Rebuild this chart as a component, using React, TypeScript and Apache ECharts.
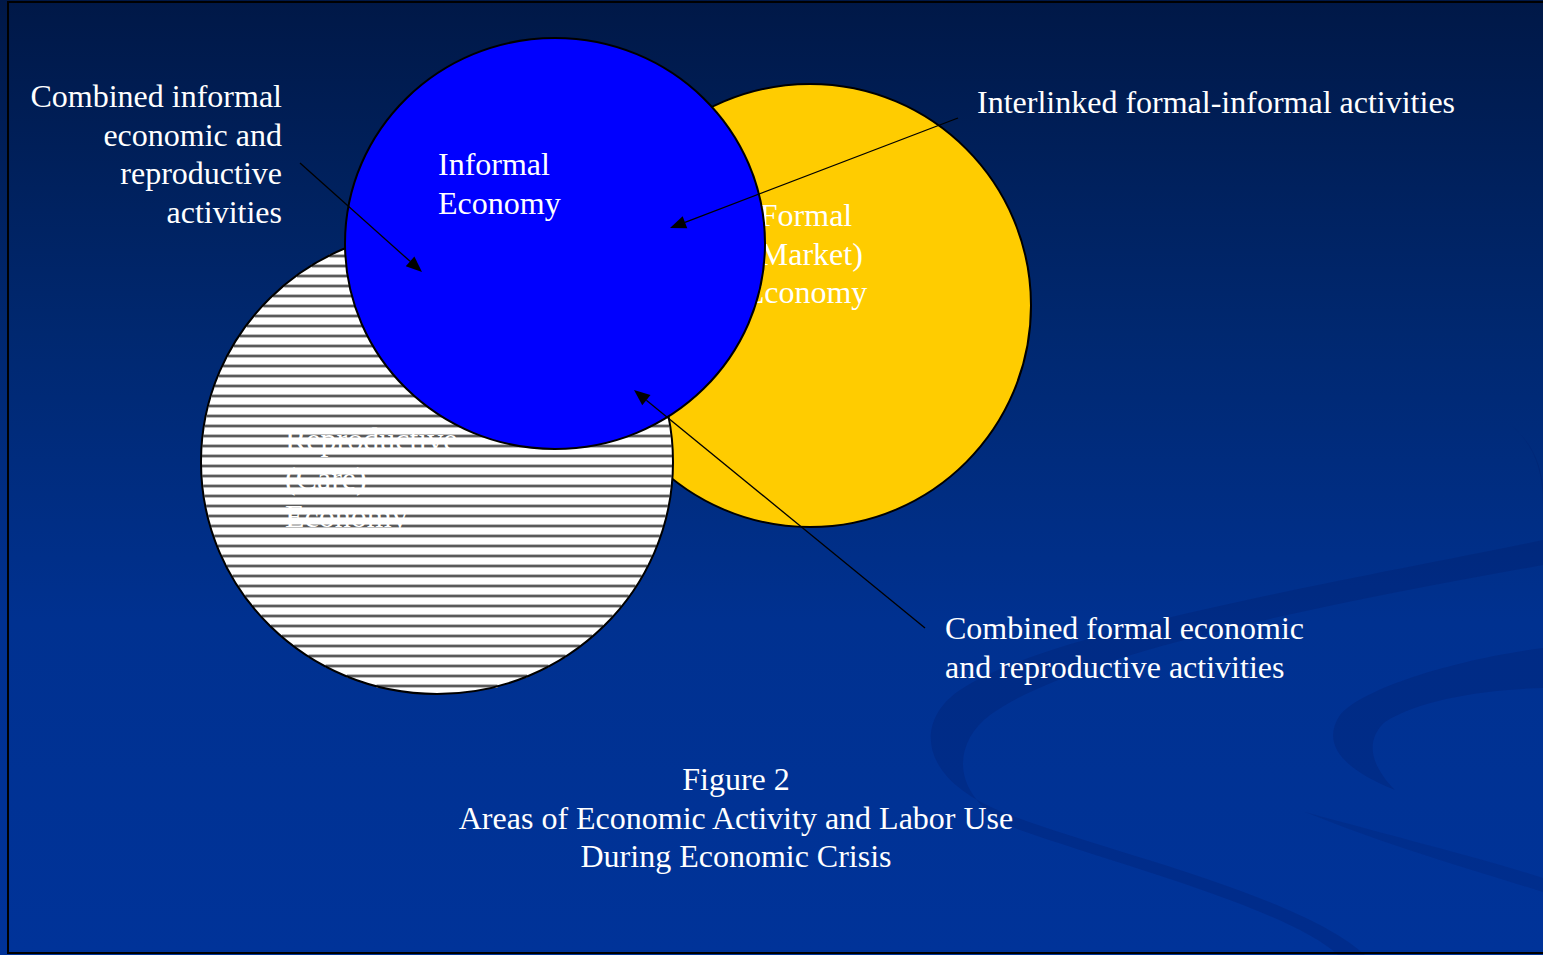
import React, { useEffect, useRef } from "react";
import * as echarts from "echarts";

// ---- Data ----
// Circles (Venn areas), drawn in this order: Formal, Reproductive, Informal
const circleNames = ["Formal (Market) Economy", "Reproductive (Care) Economy", "Informal Economy"];
const circleCx = [810, 437, 555];
const circleCy = [305.5, 462, 243.5];
const circleRx = [221, 236, 210];
const circleRy = [221.5, 232, 205.5];
const circleLabels = ["Formal\n(Market)\nEconomy", "Reproductive\n(Care)\nEconomy", "Informal\nEconomy"];

// Arrows (from -> to)
const arrowFromX = [300, 958, 925];
const arrowFromY = [163, 118, 628];
const arrowToX = [422, 670, 634];
const arrowToY = [272, 228, 390];

// Annotation texts
const noteInformal = "Combined informal\neconomic and\nreproductive\nactivities";
const noteInterlinked = "Interlinked formal-informal activities";
const noteFormal = "Combined formal economic\nand reproductive activities";
const figureCaption = "Figure 2\nAreas of Economic Activity and Labor Use\nDuring Economic Crisis";

// ---- Styles / layout ----
const FONT = "'Liberation Serif', 'Times New Roman', serif";
const FS = 32;
const LH = 38.5;
const circleStyles = [
  { fill: "#FFCC00", striped: false },
  { fill: "#FFFFFF", striped: true },
  { fill: "#0000FF", striped: false },
];
const circleLabelLayout = [
  { x: 806, y: 215 - LH / 2, align: "center" },
  { x: 285, y: 439 - LH / 2, align: "left" },
  { x: 438, y: 164 - LH / 2, align: "left" },
];

const swirlA =
  "M1543,540 C1350,580 1050,630 960,690 C915,720 915,780 1010,815 C1100,850 1300,895 1365,955 L1338,955 C1290,910 1120,865 1020,830 C950,800 950,745 990,715 C1080,650 1350,600 1543,565 Z";
const swirlB =
  "M1543,648 C1450,660 1360,690 1340,715 C1320,745 1345,770 1395,790 C1370,765 1365,740 1385,722 C1420,700 1480,690 1543,688 Z";
const swirlC = "M1305,812 C1400,838 1480,858 1543,878 L1543,892 C1480,872 1400,850 1305,812 Z";
const swirlD = "M1512,426 C1534,445 1543,470 1543,505 L1543,485 C1539,458 1530,442 1512,426 Z";

let registered = false;
function registerShapes() {
  if (registered) return;
  registered = true;
  echarts.graphic.registerShape("swirlA", echarts.graphic.extendPath(swirlA, {}) as any);
  echarts.graphic.registerShape("swirlB", echarts.graphic.extendPath(swirlB, {}) as any);
  echarts.graphic.registerShape("swirlC", echarts.graphic.extendPath(swirlC, {}) as any);
  echarts.graphic.registerShape("swirlD", echarts.graphic.extendPath(swirlD, {}) as any);
}

export default function App() {
  const ref = useRef<HTMLDivElement>(null);
  useEffect(() => {
    if (!ref.current) return;
    registerShapes();
    const chart = echarts.init(ref.current, undefined, { renderer: "svg" });

    const circleData = circleNames.map((n, i) => ({
      name: n,
      value: [circleCx[i], circleCy[i], circleRx[i], circleRy[i]],
    }));
    const arrowData = arrowFromX.map((x, i) => [x, arrowFromY[i], arrowToX[i], arrowToY[i]]);

    const textEl = (text: string, x: number, yCenter: number, align: string) => ({
      type: "text",
      x,
      y: yCenter - LH / 2,
      z: 10,
      silent: true,
      style: {
        text,
        fill: "#FFFFFF",
        fontFamily: FONT,
        fontSize: FS,
        lineHeight: LH,
        align,
        verticalAlign: "top",
      },
    });

    const swirlStyle = { fill: "rgba(0,20,90,0.2)" };

    const option: any = {
      animation: false,
      backgroundColor: {
        type: "linear",
        x: 0,
        y: 0,
        x2: 0,
        y2: 1,
        colorStops: [
          { offset: 0, color: "#001847" },
          { offset: 0.35, color: "#002870" },
          { offset: 0.65, color: "#003190" },
          { offset: 1, color: "#003399" },
        ],
      },
      grid: { left: 0, right: 0, top: 0, bottom: 0 },
      xAxis: { type: "value", min: 0, max: 1543, show: false },
      yAxis: { type: "value", min: 0, max: 955, inverse: true, show: false },
      graphic: [
        { type: "swirlA", x: 0, y: 0, z: 1, silent: true, style: swirlStyle },
        { type: "swirlB", x: 0, y: 0, z: 1, silent: true, style: swirlStyle },
        { type: "swirlC", x: 0, y: 0, z: 1, silent: true, style: { fill: "rgba(0,20,90,0.15)" } },
        { type: "swirlD", x: 0, y: 0, z: 1, silent: true, style: { fill: "rgba(0,20,90,0.2)" } },
        textEl(noteInformal, 282, 96, "right"),
        textEl(noteInterlinked, 977, 102, "left"),
        textEl(noteFormal, 945, 628, "left"),
        textEl(figureCaption, 736, 779, "center"),
        {
          type: "rect",
          z: 20,
          silent: true,
          shape: { x: 8, y: 2, width: 1545, height: 951 },
          style: { fill: "none", stroke: "#000000", lineWidth: 2 },
        },
      ],
      series: [
        {
          type: "custom",
          name: "areas",
          coordinateSystem: "cartesian2d",
          data: circleData,
          silent: true,
          renderItem: (params: any, api: any) => {
            const i = params.dataIndex;
            const cx = api.value(0);
            const cy = api.value(1);
            const rx = api.value(2);
            const ry = api.value(3);
            const c = api.coord([cx, cy]);
            const e = api.coord([cx + rx, cy + ry]);
            const prx = Math.abs(e[0] - c[0]);
            const pry = Math.abs(e[1] - c[1]);
            const st = circleStyles[i];
            const children: any[] = [];
            children.push({
              type: "ellipse",
              shape: { cx: c[0], cy: c[1], rx: prx, ry: pry },
              style: { fill: st.fill, stroke: "none" },
            });
            if (st.striped) {
              const start = Math.ceil((cy - ry - 6) / 10) * 10 + 6;
              for (let y = start; y < cy + ry; y += 10) {
                const t = (y - cy) / ry;
                if (Math.abs(t) >= 0.995) continue;
                const hw = rx * Math.sqrt(1 - t * t) - 1;
                const a = api.coord([cx - hw, y]);
                const b = api.coord([cx + hw, y]);
                children.push({
                  type: "line",
                  shape: { x1: a[0], y1: a[1], x2: b[0], y2: b[1] },
                  style: { stroke: "#bdbdbd", lineWidth: 4 },
                });
                children.push({
                  type: "line",
                  shape: { x1: a[0], y1: a[1], x2: b[0], y2: b[1] },
                  style: { stroke: "#5a5a5a", lineWidth: 2 },
                });
              }
            }
            children.push({
              type: "ellipse",
              shape: { cx: c[0], cy: c[1], rx: prx, ry: pry },
              style: { fill: "none", stroke: "#000000", lineWidth: 2 },
            });
            const lab = circleLabelLayout[i];
            const p = api.coord([lab.x, lab.y]);
            children.push({
              type: "text",
              style: {
                text: circleLabels[i],
                x: p[0],
                y: p[1],
                fill: "#FFFFFF",
                fontFamily: FONT,
                fontSize: FS,
                lineHeight: LH,
                align: lab.align,
                verticalAlign: "top",
              },
            });
            return { type: "group", children };
          },
        },
        {
          type: "custom",
          name: "arrows",
          coordinateSystem: "cartesian2d",
          data: arrowData,
          silent: true,
          renderItem: (params: any, api: any) => {
            const a = api.coord([api.value(0), api.value(1)]);
            const b = api.coord([api.value(2), api.value(3)]);
            const dx = b[0] - a[0];
            const dy = b[1] - a[1];
            const L = Math.hypot(dx, dy);
            const ux = dx / L;
            const uy = dy / L;
            const head = 16;
            const hw = 6.5;
            const base = [b[0] - ux * head, b[1] - uy * head];
            return {
              type: "group",
              children: [
                {
                  type: "line",
                  shape: { x1: a[0], y1: a[1], x2: base[0], y2: base[1] },
                  style: { stroke: "#000000", lineWidth: 1.3 },
                },
                {
                  type: "polygon",
                  shape: {
                    points: [
                      [b[0], b[1]],
                      [base[0] - uy * hw, base[1] + ux * hw],
                      [base[0] + uy * hw, base[1] - ux * hw],
                    ],
                  },
                  style: { fill: "#000000" },
                },
              ],
            };
          },
        },
      ],
    };
    chart.setOption(option);
    return () => chart.dispose();
  }, []);
  return (
    <div
      ref={ref}
      style={{ position: "fixed", left: 0, top: 0, width: 1543, height: 955 }}
    />
  );
}
